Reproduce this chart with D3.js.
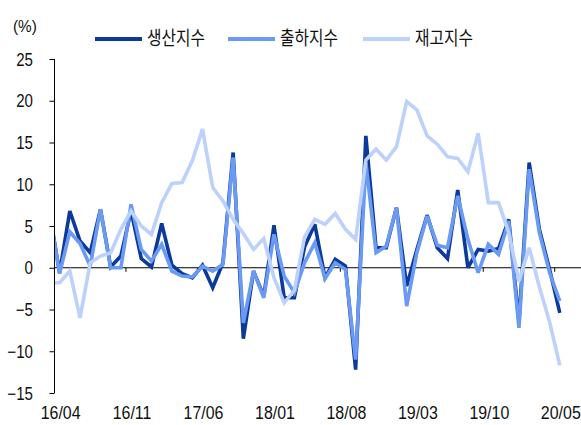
<!DOCTYPE html>
<html>
<head>
<meta charset="utf-8">
<script src="https://cdn.jsdelivr.net/npm/d3@7/dist/d3.min.js"></script>
<style>
  body { margin: 0; background: #fff; }
  svg text { font-family: "Liberation Sans", Arial, sans-serif; fill: #111; }
  .kr { font-family: "Noto Sans CJK KR", sans-serif; }
</style>
</head>
<body>
<svg id="chart" width="581" height="425"></svg>
<script>
// months 16/03 .. 20/05 (16/03 only feeds the clipped first segment)
const months = [];
for (let yy = 16, m = 3; yy < 20 || (yy === 20 && m <= 5); ) {
    months.push(String(yy) + '/' + String(m).padStart(2, '0'));
    m++; if (m > 12) { m = 1; yy++; }
}
const tickLabels = ['16/04', '16/11', '17/06', '18/01', '18/08', '19/03', '19/10', '20/05'];
const yTicks = [25, 20, 15, 10, 5, 0, -5, -10, -15];

const seriesNames = ['생산지수', '출하지수', '재고지수'];
const production = [6.7, -0.6, 6.8, 3.2, 1.8, 7.0, 0.1, 1.4, 6.8, 1.1, 0.1, 5.3, 0.3, -0.7, -1.2, 0.3, -2.4, 0.6, 13.8, -8.5,
    -0.4, -3.4, 5.1, -3.6, -3.6, 2.5, 5.2, -1.2, 1.0, 0.2, -12.2, 15.8, 2.4, 2.4, 7.2, -2.2, 2.2, 6.3, 2.4, 1.1,
    9.3, 0.0, 2.2, 2.0, 2.3, 5.8, -6.5, 12.6, 4.6, -0.2, -5.4];
const shipment = [6.7, -0.7, 4.3, 2.9, 0.2, 7.0, 0.0, 0.0, 7.6, 2.2, 0.8, 2.8, -0.4, -1.0, -1.1, 0.2, -0.4, 0.4, 13.2, -6.6,
    -0.4, -3.6, 4.0, -1.0, -3.0, 0.6, 3.0, -1.3, 0.6, -0.2, -11.0, 12.6, 1.8, 2.6, 7.2, -4.6, 1.8, 6.2, 2.7, 2.4,
    8.6, 3.4, -0.6, 2.8, 1.6, 5.6, -7.2, 11.8, 4.2, -0.6, -4.0];
const inventory = [-1.8, -1.8, -0.4, -6.0, 0.6, 1.4, 1.8, 4.6, 6.8, 5.0, 4.0, 7.8, 10.1, 10.2, 12.8, 16.6, 9.6, 8.0, 5.8, 4.1,
    2.2, 3.5, -1.2, -4.2, -2.7, 3.7, 5.8, 5.2, 6.5, 4.6, 3.4, 12.9, 14.2, 12.9, 14.5, 19.9, 18.9, 15.8, 14.8, 13.3,
    13.1, 11.5, 16.1, 7.8, 7.8, 4.2, -1.6, 2.4, -2.3, -6.5, -11.7];
const colors = ['#0b3a9b', '#6a9af3', '#bcd1fb'];

const svg = d3.select('#chart');
const padL = 54.5, padR = 581, padT = 59, padB = 393;
const narrow = 0.84; // reference uses a condensed face

// index 0 = 16/04; 16/03 sits at -1 and is clipped away
const x = d3.scaleLinear().domain([-0.5, 49.5]).range([padL, 564.9]);
const y = d3.scaleLinear().domain([-15, 25]).range([padB, padT]);
const idx = (i) => i - 1;

svg.append('defs').append('clipPath').attr('id', 'plot')
    .append('rect').attr('x', padL + 0.5).attr('y', 0).attr('width', padR - padL).attr('height', 425);

// y axis (ticks from d3, labels drawn condensed)
const yAxis = d3.axisLeft(y).tickValues(yTicks).tickSize(5).tickFormat('');
const yg = svg.append('g').attr('transform', `translate(${padL},0)`).call(yAxis);
yg.selectAll('line, path').attr('stroke', '#000');
yg.select('.domain').attr('d', `M0,${padT}V${padB}`);
yTicks.forEach(v => {
    svg.append('text').attr('transform', `translate(33,${y(v) + 6.5}) scale(${narrow},1)`)
        .attr('text-anchor', 'end').style('font-size', '18px')
        .text(v < 0 ? '\u2212' + Math.abs(v) : v);
});

// zero line with category ticks
const z = y(0);
svg.append('line').attr('x1', padL).attr('x2', padR).attr('y1', z).attr('y2', z)
    .attr('stroke', '#000').attr('stroke-width', 1.2);
tickLabels.forEach(lbl => {
    const i = idx(months.indexOf(lbl));
    svg.append('line').attr('x1', x(i - 0.5)).attr('x2', x(i - 0.5))
        .attr('y1', z).attr('y2', z + 4).attr('stroke', '#000');
    svg.append('text').attr('transform', `translate(${x(i) + 1},419) scale(${narrow},1)`)
        .attr('text-anchor', 'middle').style('font-size', '19px').text(lbl);
});

svg.append('text').attr('transform', `translate(13,32) scale(0.9,1)`).style('font-size', '17px').text('(%)');

// lines
const line = d3.line().x((d, i) => x(idx(i))).y(d => y(d));
const g = svg.append('g').attr('clip-path', 'url(#plot)');
[production, shipment, inventory].forEach((vals, k) => {
    g.append('path').datum(vals).attr('d', line)
        .attr('fill', 'none').attr('stroke', colors[k]).attr('stroke-width', 3.6)
        .attr('stroke-linejoin', 'miter').attr('stroke-miterlimit', 3);
});

// legend
const legX = [95, 228, 363];
seriesNames.forEach((name, k) => {
    svg.append('line').attr('x1', legX[k]).attr('x2', legX[k] + 47).attr('y1', 39).attr('y2', 39)
        .attr('stroke', colors[k]).attr('stroke-width', 4);
    svg.append('text').attr('class', 'kr').attr('x', legX[k] + 52).attr('y', 45)
        .style('font-size', '19px').attr('textLength', 58).attr('lengthAdjust', 'spacingAndGlyphs')
        .text(name);
});
</script>
</body>
</html>
